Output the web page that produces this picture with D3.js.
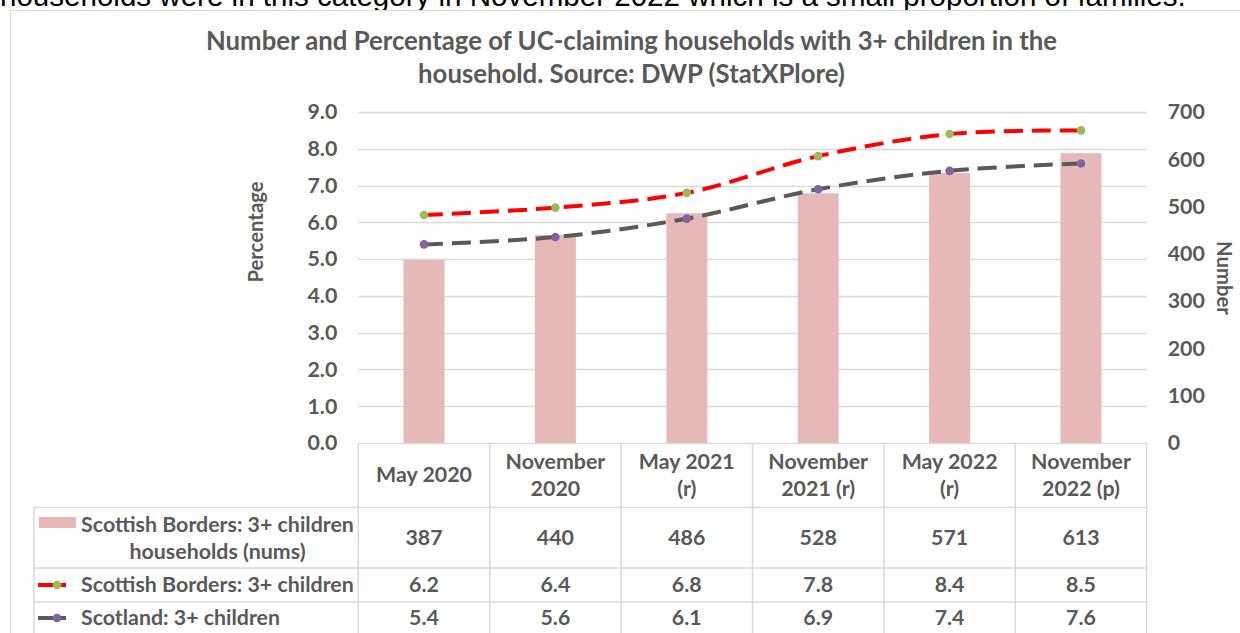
<!DOCTYPE html>
<html><head><meta charset="utf-8">
<script src="https://cdn.jsdelivr.net/npm/d3@7"></script>
<style>html,body{margin:0;padding:0;background:#fff;overflow:hidden}</style>
</head><body>
<svg id="c" width="1240" height="633"></svg>
<script>
// ---- data ----
const categories = [["May 2020"],["November","2020"],["May 2021","(r)"],["November","2021 (r)"],["May 2022","(r)"],["November","2022 (p)"]];
const bordersNums = [387, 440, 486, 528, 571, 613];
const bordersPct = [6.2, 6.4, 6.8, 7.8, 8.4, 8.5];
const scotlandPct = [5.4, 5.6, 6.1, 6.9, 7.4, 7.6];
const leftTicks = [0,1,2,3,4,5,6,7,8,9];
const rightTicks = [0,100,200,300,400,500,600,700];
const seriesNames = [["Scottish Borders: 3+ children","households (nums)"],["Scottish Borders: 3+ children"],["Scotland: 3+ children"]];
const titleLines = ["Number and Percentage of UC-claiming households with 3+ children in the","household. Source: DWP (StatXPlore)"];
const topText = "households were in this category in November 2022 which is a small proportion of families.";

const svg = d3.select("#c");
const FONT = "Lato, 'Open Sans', sans-serif";
const GRAY = "#595959", GRID = "#d9d9d9";
const barColor = "#e6b9b8", redLine = "#ff0000", greenDot = "#9bbb59", grayLine = "#595959", purpleDot = "#8064a2";

function fit(sel, target){
  const fs = parseFloat(sel.attr("font-size"));
  const w = sel.node().getComputedTextLength();
  const nf = fs*target/w; sel.attr("font-size", nf); return nf;
}

// top cut-off body text
const tt = svg.append("text").attr("x",0).attr("y",6).attr("font-family","'Liberation Sans', Arial, sans-serif")
  .attr("font-size",24).attr("fill","#000").text(topText);
fit(tt, 1186);

// chart frame
svg.append("rect").attr("x",10.5).attr("y",10.5).attr("width",1300).attr("height",700)
  .attr("fill","#fff").attr("stroke",GRID).attr("stroke-width",1);

// title
const t1 = svg.append("text").attr("x",631.5).attr("y",50).attr("text-anchor","middle").attr("font-family",FONT)
  .attr("font-weight","bold").attr("font-size",24).attr("fill",GRAY).text(titleLines[0]);
const tfs = fit(t1, 851);
svg.append("text").attr("x",631.5).attr("y",83).attr("text-anchor","middle").attr("font-family",FONT)
  .attr("font-weight","bold").attr("font-size",tfs).attr("fill",GRAY).text(titleLines[1]);

// scales
const plotL = 358.3, plotR = 1146.7, plotT = 112, plotB = 443;
const x = d3.scaleBand().domain(d3.range(categories.length)).range([plotL, plotR]).paddingInner(0.688).paddingOuter(0.344);
const xc = i => x(i) + x.bandwidth()/2;
const yL = d3.scaleLinear().domain([0,9]).range([plotB, plotT]);
const yR = d3.scaleLinear().domain([0,700]).range([plotB, plotT]);

// measure table font
const probe = svg.append("text").attr("font-family",FONT).attr("font-weight","bold").attr("font-size",20).text(seriesNames[1][0]);
const FS = fit(probe, 273); probe.remove();

// gridlines
svg.append("g").selectAll("line").data(leftTicks.slice(1)).join("line")
  .attr("x1",plotL).attr("x2",plotR).attr("y1",d=>Math.round(yL(d))+0.5).attr("y2",d=>Math.round(yL(d))+0.5)
  .attr("stroke",GRID).attr("stroke-width",1.3);

// left axis
const ax = d3.axisLeft(yL).tickValues(leftTicks).tickFormat(d3.format(".1f")).tickSize(0).tickPadding(21);
const gL = svg.append("g").attr("transform",`translate(${plotL},0)`).call(ax);
gL.select(".domain").remove();
gL.selectAll("text").attr("font-family",FONT).attr("font-weight","bold").attr("font-size",FS).attr("fill",GRAY);

// right axis
const axR = d3.axisRight(yR).tickValues(rightTicks).tickFormat(d3.format("d")).tickSize(0).tickPadding(21);
const gR = svg.append("g").attr("transform",`translate(${plotR},0)`).call(axR);
gR.select(".domain").remove();
gR.selectAll("text").attr("font-family",FONT).attr("font-weight","bold").attr("font-size",FS).attr("fill",GRAY);

// axis titles
svg.append("text").attr("transform","translate(263,232) rotate(-90)").attr("text-anchor","middle")
  .attr("font-family",FONT).attr("font-weight","bold").attr("font-size",FS*0.95).attr("fill",GRAY).text("Percentage");
svg.append("text").attr("transform","translate(1217,278) rotate(90)").attr("text-anchor","middle")
  .attr("font-family",FONT).attr("font-weight","bold").attr("font-size",FS*0.95).attr("fill",GRAY).text("Number");

// bars
svg.append("g").selectAll("rect").data(bordersNums).join("rect")
  .attr("x",(d,i)=>x(i)).attr("width",x.bandwidth()).attr("y",d=>yR(d)).attr("height",d=>plotB-yR(d)).attr("fill",barColor);

// lines
const line = d3.line().x((d,i)=>xc(i)).y(d=>yL(d)).curve(d3.curveCatmullRom.alpha(0.5));
svg.append("path").datum(scotlandPct).attr("d",line).attr("fill","none").attr("stroke",grayLine)
  .attr("stroke-width",4).attr("stroke-dasharray","19,9");
svg.append("path").datum(bordersPct).attr("d",line).attr("fill","none").attr("stroke",redLine)
  .attr("stroke-width",4).attr("stroke-dasharray","19,9");
svg.append("g").selectAll("circle").data(scotlandPct).join("circle")
  .attr("cx",(d,i)=>xc(i)).attr("cy",d=>yL(d)).attr("r",4.3).attr("fill",purpleDot);
svg.append("g").selectAll("circle").data(bordersPct).join("circle")
  .attr("cx",(d,i)=>xc(i)).attr("cy",d=>yL(d)).attr("r",4.3).attr("fill",greenDot);

// data table
const colW = (plotR-plotL)/categories.length;
const rowY = [443, 507.5, 568, 602, 636];
const legL = 34;
const tg = svg.append("g");
tg.append("line").attr("x1",plotL).attr("x2",plotR).attr("y1",rowY[0]+0.5).attr("y2",rowY[0]+0.5).attr("stroke",GRID).attr("stroke-width",1.5);
rowY.slice(1).forEach(yv=>tg.append("line").attr("x1",legL).attr("x2",plotR).attr("y1",yv).attr("y2",yv).attr("stroke",GRID).attr("stroke-width",1.5));
d3.range(categories.length+1).forEach(i=>{
  tg.append("line").attr("x1",plotL+i*colW).attr("x2",plotL+i*colW).attr("y1",rowY[0]).attr("y2",rowY[4]).attr("stroke",GRID).attr("stroke-width",1.5);
});
tg.append("line").attr("x1",legL).attr("x2",legL).attr("y1",rowY[1]).attr("y2",rowY[4]).attr("stroke",GRID).attr("stroke-width",1.5);

function cellText(cx, cy, lines){
  const lh = FS*1.27;
  const t = tg.append("text").attr("text-anchor","middle").attr("font-family",FONT).attr("font-weight","bold")
    .attr("font-size",FS).attr("fill",GRAY);
  lines.forEach((l,k)=>{
    t.append("tspan").attr("x",cx).attr("y",cy + (k-(lines.length-1)/2)*lh + FS*0.35).text(l);
  });
}
categories.forEach((c,i)=>cellText(plotL+(i+0.5)*colW, 475, c));
const rowsData = [bordersNums.map(String), bordersPct.map(d=>d.toFixed(1)), scotlandPct.map(d=>d.toFixed(1))];
const rowMid = [538, 585, 618];
rowsData.forEach((r,ri)=>r.forEach((v,i)=>cellText(plotL+(i+0.5)*colW, rowMid[ri], [v])));
cellText(217.5, 538, seriesNames[0]);
tg.append("text").attr("x",81).attr("y",585+FS*0.35).attr("font-family",FONT).attr("font-weight","bold")
  .attr("font-size",FS).attr("fill",GRAY).text(seriesNames[1][0]);
tg.append("text").attr("x",81).attr("y",618+FS*0.35).attr("font-family",FONT).attr("font-weight","bold")
  .attr("font-size",FS).attr("fill",GRAY).text(seriesNames[2][0]);
tg.append("rect").attr("x",39).attr("y",517).attr("width",37).attr("height",11).attr("fill",barColor);
tg.append("line").attr("x1",38).attr("x2",66).attr("y1",585).attr("y2",585).attr("stroke",redLine).attr("stroke-width",4);
tg.append("circle").attr("cx",57).attr("cy",585).attr("r",4.3).attr("fill",greenDot);
tg.append("line").attr("x1",38).attr("x2",66).attr("y1",618).attr("y2",618).attr("stroke",grayLine).attr("stroke-width",4);
tg.append("circle").attr("cx",57).attr("cy",618).attr("r",4.3).attr("fill",purpleDot);
</script>
</body></html>
